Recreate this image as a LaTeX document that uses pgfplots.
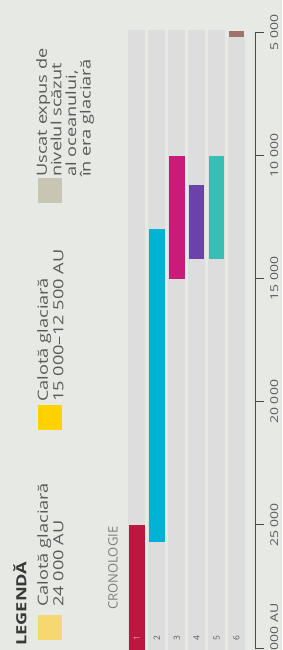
\documentclass[border=0pt]{standalone}
\usepackage{pgfplots}
\pgfplotsset{compat=1.18}
\usepackage{fontspec}
\setmainfont{Open Sans}[FakeStretch=1.3]
\newfontfamily\plainfont{Open Sans}
\definecolor{bg}{HTML}{E7E9E4}
\definecolor{stripe}{HTML}{DCDDDC}
\definecolor{rowa}{RGB}{186,24,62}
\definecolor{rowb}{RGB}{0,178,212}
\definecolor{rowc}{RGB}{200,28,120}
\definecolor{rowd}{RGB}{106,66,170}
\definecolor{rowe}{RGB}{56,190,180}
\definecolor{rowf}{RGB}{158,116,106}
\definecolor{leg1}{RGB}{246,216,112}
\definecolor{leg2}{RGB}{255,210,0}
\definecolor{leg3}{RGB}{200,197,178}
\definecolor{txt}{HTML}{5A5A5A}
\definecolor{axc}{HTML}{4A4A4A}
\begin{document}
\begin{tikzpicture}
\useasboundingbox (0pt,0pt) rectangle (282pt,650pt);
\clip (0pt,0pt) rectangle (282pt,650pt);
\fill[bg] (0pt,0pt) rectangle (282pt,650pt);
% legend
\node[rotate=90, anchor=north west, inner sep=0pt, font=\bfseries\fontsize{14}{15}\selectfont, text=black!78] at (13pt,4pt) {LEGENDĂ};
\fill[leg1] (38pt,10pt) rectangle (62pt,35pt);
\node[rotate=90, anchor=north west, inner sep=0pt, align=left, font=\fontsize{14}{15.5}\selectfont, text=txt] at (37pt,43pt) {Calotă glaciară\\24 000 AU};
\fill[leg2] (38pt,220pt) rectangle (62pt,245pt);
\node[rotate=90, anchor=north west, inner sep=0pt, align=left, font=\fontsize{14}{15.5}\selectfont, text=txt] at (37pt,248pt) {Calotă glaciară\\15 000–12 500 AU};
\fill[leg3] (38pt,447pt) rectangle (62pt,472pt);
\node[rotate=90, anchor=north west, inner sep=0pt, align=left, font=\fontsize{14}{14.6}\selectfont, text=txt] at (36pt,473pt) {Uscat expus de\\nivelul scăzut\\al oceanului,\\în era glaciară};
\node[rotate=90, anchor=north west, inner sep=0pt, font=\plainfont\fontsize{13}{15}\selectfont, text=black!50] at (108pt,40pt) {CRONOLOGIE};
\begin{axis}[
  at={(127pt,2pt)}, anchor=south west,
  scale only axis, width=128pt, height=615.5pt,
  xmin=0.5, xmax=6.932, ymin=5000, ymax=30000,
  y dir=reverse,
  clip=false,
  axis x line=none,
  axis y line*=right,
  axis line style={axc, line width=1pt},
  ytick={5000,10000,15000,20000,25000,30000},
  yticklabels={5 000,10 000,15 000,20 000,25 000,{30 000\rlap{ AU}}},
  scaled y ticks=false,
  tick align=outside,
  major tick length=9pt,
  tick style={axc, line width=1pt},
  yticklabel style={rotate=90, anchor=north, inner xsep=0pt, inner ysep=6pt, font=\fontsize{10.8}{12}\selectfont, text=txt},
  /pgf/number format/assume math mode=true,
]
\addplot[stripe, line width=17pt, forget plot] coordinates {(1,4880) (1,30100)};
\addplot[stripe, line width=17pt, forget plot] coordinates {(2,4880) (2,30100)};
\addplot[stripe, line width=17pt, forget plot] coordinates {(3,4880) (3,30100)};
\addplot[stripe, line width=17pt, forget plot] coordinates {(4,4880) (4,30100)};
\addplot[stripe, line width=17pt, forget plot] coordinates {(5,4880) (5,30100)};
\addplot[stripe, line width=17pt, forget plot] coordinates {(6,5200) (6,30100)};
\addplot[rowa, line width=16.5pt] coordinates {(1,25000) (1,30100)};
\addplot[rowb, line width=15.5pt] coordinates {(2,13000) (2,25700)};
\addplot[rowc, line width=15.5pt] coordinates {(3,10000) (3,15000)};
\addplot[rowd, line width=15.5pt] coordinates {(4,11200) (4,14200)};
\addplot[rowe, line width=15.5pt] coordinates {(5,10000) (5,14200)};
\addplot[rowf, line width=15.5pt] coordinates {(6,4950) (6,5200)};
\node[rotate=90, font=\plainfont\fontsize{8.5}{9}\selectfont, text=rowa!45!white] at (axis cs:1,29600) {1};
\node[rotate=90, font=\plainfont\fontsize{8.5}{9}\selectfont, text=txt] at (axis cs:2,29600) {2};
\node[rotate=90, font=\plainfont\fontsize{8.5}{9}\selectfont, text=txt] at (axis cs:3,29600) {3};
\node[rotate=90, font=\plainfont\fontsize{8.5}{9}\selectfont, text=txt] at (axis cs:4,29600) {4};
\node[rotate=90, font=\plainfont\fontsize{8.5}{9}\selectfont, text=txt] at (axis cs:5,29600) {5};
\node[rotate=90, font=\plainfont\fontsize{8.5}{9}\selectfont, text=txt] at (axis cs:6,29600) {6};
\end{axis}
\end{tikzpicture}
\end{document}
